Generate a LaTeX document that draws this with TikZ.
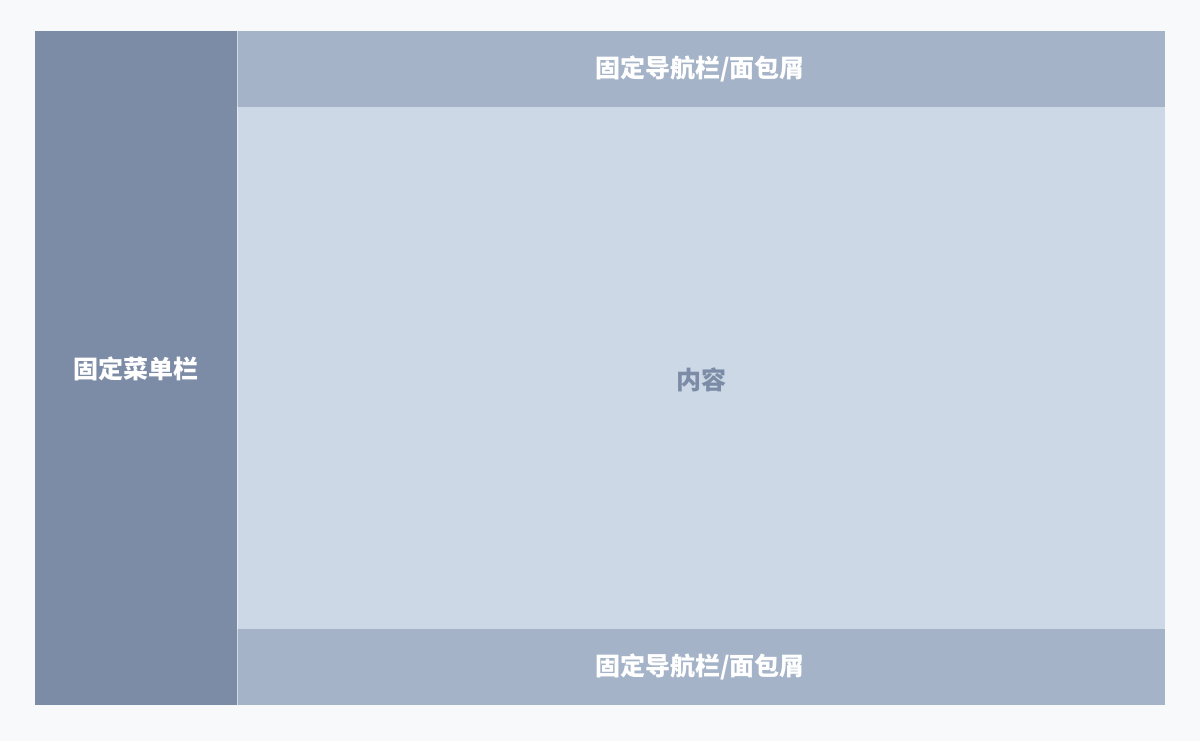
\documentclass[tikz,border=0pt]{standalone}
\usepackage{fontspec}
\newfontfamily\cjk{Noto Sans CJK SC}
\definecolor{bgc}{HTML}{F8F9FA}
\definecolor{sidec}{HTML}{7D8CA6}
\definecolor{barc}{HTML}{A4B3C7}
\definecolor{contc}{HTML}{CCD8E6}
\tikzset{
  panel/.style={draw=none, inner sep=0pt, outer sep=0pt},
  lbl/.style={font=\cjk\bfseries\fontsize{25}{29}\selectfont, text=white},
  clbl/.style={font=\cjk\bfseries\fontsize{25}{29}\selectfont, text=sidec},
}
\begin{document}
\begin{tikzpicture}[x=1pt,y=-1pt]
\fill[bgc] (0,0) rectangle (1200,741);
\useasboundingbox (0,0) rectangle (1200,741);
\fill[sidec] (35,31) rectangle (237,705);
\fill[barc] (237,31) rectangle (1165,107);
\fill[contc] (237,107) rectangle (1165,629);
\fill[barc] (237,629) rectangle (1165,705);
\draw[white, opacity=0.5, line width=1pt] (237,31) -- (237,705);
\node[lbl] (side) at (136,369) {固定菜单栏};
\node[lbl] (top) at (700,69) {固定导航栏/面包屑};
\node[clbl] (cont) at (701,380) {内容};
\node[lbl] (bot) at (700,667) {固定导航栏/面包屑};
\end{tikzpicture}
\end{document}
